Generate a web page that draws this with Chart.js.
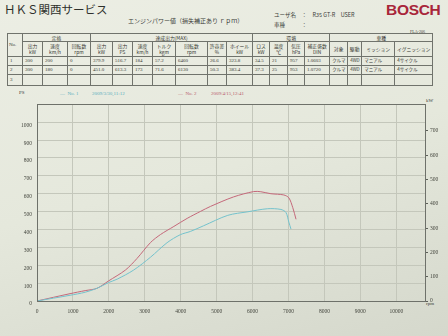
<!DOCTYPE html>
<html>
<head>
<meta charset="utf-8">
<script src="https://cdn.jsdelivr.net/npm/chart.js@4/dist/chart.umd.min.js"></script>
<style>
html, body { margin: 0; padding: 0; }
body {
  width: 448px; height: 336px; overflow: hidden; position: relative;
  background: linear-gradient(165deg, #eceee4 0%, #e5e8dc 50%, #d5d8cc 100%);
  font-family: "Liberation Serif", "Noto Sans CJK JP", serif; color: #3a3c38;
}
.abs { position: absolute; white-space: nowrap; }
.jp { font-family: "Noto Sans CJK JP", sans-serif; }
#title { left: 4px; top: 1px; font-size: 11.5px; color: #2e302c; }
#sub { left: 128px; top: 16px; font-size: 6px; }
#user { left: 274px; top: 11px; font-size: 5.5px; }
#car { left: 274px; top: 21px; font-size: 5.5px; }
#bosch { left: 386px; top: 1px; font: bold 15.5px "Liberation Sans", sans-serif; color: #a8263a; letter-spacing: -0.3px; }
#fla { left: 410px; top: 29px; font-size: 4px; }
table { position: absolute; left: 7px; top: 33px; border-collapse: collapse; table-layout: fixed; width: 425px; }
td { border: 1px solid #70736c; padding: 0 0 0 2px; font-size: 5px; line-height: 5.5px; overflow: hidden; white-space: nowrap; vertical-align: middle; }
td.h { font-family: "Noto Sans CJK JP", sans-serif; font-size: 4.8px; line-height: 5.6px; text-align: center; padding: 0; color: #33352f; }
tr.r1 td { height: 7px; }
tr.r2 td { height: 14px; }
tr.r3 td { height: 8px; }
tr.r4 td { height: 8px; }
tr.r5 td { height: 10px; }
.leg { font-size: 5px; top: 91px; }
#chartBox { position: absolute; left: 0; top: 96px; width: 448px; height: 240px; }
</style>
</head>
<body>
<div id="title" class="abs jp">ＨＫＳ関西サービス</div>
<div id="sub" class="abs jp">エンジンパワー値（損失補正あり ｒｐｍ）</div>
<div id="user" class="abs jp">ユーザ名　：　R35 GT-R　USER</div>
<div id="car" class="abs jp">車種　　　：</div>
<div id="bosch" class="abs">BOSCH</div>
<div id="fla" class="abs">FLA-206</div>

<table>
<colgroup>
<col style="width:15px"><col style="width:20px"><col style="width:25px"><col style="width:23px">
<col style="width:22px"><col style="width:20px"><col style="width:20px"><col style="width:23px">
<col style="width:32px"><col style="width:19px"><col style="width:26px"><col style="width:17px">
<col style="width:18px"><col style="width:17px"><col style="width:25px"><col style="width:18px">
<col style="width:14px"><col style="width:33px"><col style="width:38px">
</colgroup>
<tr class="r1">
<td rowspan="2" style="padding-left:1px">No.</td>
<td class="h" colspan="3">定格</td>
<td class="h" colspan="7">達成出力(MAX)</td>
<td class="h" colspan="4">環境</td>
<td class="h" colspan="4">車種</td>
</tr>
<tr class="r2">
<td class="h">出力<br>kW</td><td class="h">速度<br>km/h</td><td class="h">回転数<br>rpm</td>
<td class="h">出力<br>kW</td><td class="h">出力<br>PS</td><td class="h">速度<br>km/h</td><td class="h">トルク<br>kgm</td>
<td class="h">回転数<br>rpm</td><td class="h">許容差<br>%</td><td class="h">ホイール<br>kW</td><td class="h">ロス<br>kW</td>
<td class="h">温度<br>℃</td><td class="h">気圧<br>hPa</td><td class="h">補正係数<br>DIN</td>
<td class="h">対象</td><td class="h">駆動</td><td class="h">ミッション</td><td class="h">イグニッション</td>
</tr>
<tr class="r3" id="row1"></tr>
<tr class="r4" id="row2"></tr>
<tr class="r5" id="row3"></tr>
</table>

<div class="abs leg" style="left:19px;top:90px">PS</div>
<div class="abs leg" style="left:60px;color:#58aebd">—&nbsp; No. 1</div>
<div class="abs leg" style="left:92px;color:#58aebd">2009/3/30,11:12</div>
<div class="abs leg" style="left:178px;color:#b85a6c">—&nbsp; No. 2</div>
<div class="abs leg" style="left:211px;color:#b85a6c">2009/4/15,12:41</div>
<div class="abs leg" style="left:426px;top:98px">kW</div>
<div class="abs leg" style="left:426px;top:301px">rpm</div>

<div id="chartBox"><canvas id="dyno" width="448" height="240"></canvas></div>

<script>
// summary table rows
var rowNo1 = ['1', '300', '200', '0', '379.9', '516.7', '184', '57.2', '6460', '26.6', '323.8', '34.5', '21', '957', '1.0603', 'クルマ', '4WD', 'マニアル', '4サイクル'];
var rowNo2 = ['2', '300', '180', '0', '451.0', '613.3', '173', '71.6', '6130', '50.3', '383.4', '37.3', '25', '953', '1.0720', 'クルマ', '4WD', 'マニアル', '4サイクル'];
var rowNo3 = ['3', '', '', '', '', '', '', '', '', '', '', '', '', '', '', '', '', '', ''];

// No.1 run (cyan)
var rpm1 = [0, 920, 1340, 1670, 1990, 2230, 2690, 3160, 3620, 3990, 4270, 4640, 5310, 5870, 6420, 6790, 6930, 7010, 7070];
var ps1  = [0, 32, 49, 71, 103, 122, 173, 245, 326, 371, 389, 421, 479, 499, 516, 512, 495, 441, 402];
// No.2 run (red)
var rpm2 = [0, 920, 1340, 1670, 1990, 2460, 2780, 3160, 3440, 3810, 4180, 4550, 4830, 5470, 6030, 6230, 6510, 6870, 7010, 7120, 7210];
var ps2  = [0, 41, 58, 71, 112, 173, 237, 327, 372, 417, 462, 501, 529, 582, 612, 611, 600, 593, 577, 522, 457];

// tick labels
var rpmTicks = [0, 1000, 2000, 3000, 4000, 5000, 6000, 7000, 8000, 9000, 10000];
var psTicks = [0, 100, 200, 300, 400, 500, 600, 700, 800, 900, 1000];
var kwTicks = [0, 100, 200, 300, 400, 500, 600, 700];

var rpmMax = 10800;
var psMax = 1100;
var kwPerPs = 0.7355;

function fillRow(id, cells) {
  var tr = document.getElementById(id);
  cells.forEach(function(v, i) {
    var td = document.createElement('td');
    td.textContent = v;
    if (i > 14) { td.className = 'jp'; td.style.fontSize = '4.5px'; }
    tr.appendChild(td);
  });
}
fillRow('row1', rowNo1);
fillRow('row2', rowNo2);
fillRow('row3', rowNo3);

function pts(xs, ys) {
  return xs.map(function(x, i) { return {x: x, y: ys[i]}; });
}
function useTicks(list) {
  return function(s) { s.ticks = list.map(function(v) { return {value: v}; }); };
}

var frame = {
  id: 'frame',
  afterDatasetsDraw: function(chart) {
    var a = chart.chartArea, c = chart.ctx;
    c.save();
    c.strokeStyle = '#6e716a';
    c.lineWidth = 1;
    c.strokeRect(Math.round(a.left) + 0.5, Math.round(a.top) + 0.5,
      Math.round(a.right - a.left), Math.round(a.bottom - a.top));
    c.restore();
  }
};

var tickFont = {family: 'Liberation Serif', size: 5.5};
var tickColor = '#45473f';
var gridColor = '#c4c7bb';

new Chart(document.getElementById('dyno'), {
  type: 'line',
  data: {
    datasets: [{
      label: 'No. 1',
      data: pts(rpm1, ps1),
      borderColor: '#74c2cc',
      yAxisID: 'y'
    }, {
      label: 'No. 2',
      data: pts(rpm2, ps2),
      borderColor: '#c4687a',
      yAxisID: 'y'
    }]
  },
  options: {
    responsive: false,
    animation: false,
    layout: {padding: {top: 5, left: 0, right: 0, bottom: 0}},
    elements: {point: {radius: 0}, line: {borderWidth: 1, tension: 0.3}},
    plugins: {legend: {display: false}, tooltip: {enabled: false}},
    scales: {
      x: {
        type: 'linear', min: 0, max: rpmMax,
        ticks: {autoSkip: false, maxRotation: 0, padding: 7, color: tickColor, font: tickFont,
          callback: function(v) { return String(v); }},
        grid: {color: gridColor, drawTicks: false},
        border: {display: false},
        afterBuildTicks: useTicks(rpmTicks),
        afterFit: function(s) { s.height = 35; }
      },
      y: {
        position: 'left', min: 0, max: psMax,
        ticks: {autoSkip: false, padding: 5, labelOffset: 3, color: tickColor, font: tickFont,
          callback: function(v) { return String(v); }},
        grid: {color: gridColor, drawTicks: false},
        border: {display: false},
        afterBuildTicks: useTicks(psTicks),
        afterFit: function(s) { s.width = 37; }
      },
      kw: {
        position: 'right', min: 0, max: psMax * kwPerPs,
        ticks: {autoSkip: false, padding: 2, color: tickColor, font: tickFont,
          callback: function(v) { return String(v); }},
        grid: {drawOnChartArea: false, drawTicks: true, tickLength: 3, tickColor: '#5c5f58'},
        border: {display: false},
        afterBuildTicks: useTicks(kwTicks),
        afterFit: function(s) { s.width = 23; }
      }
    }
  },
  plugins: [frame]
});
</script>
</body>
</html>
